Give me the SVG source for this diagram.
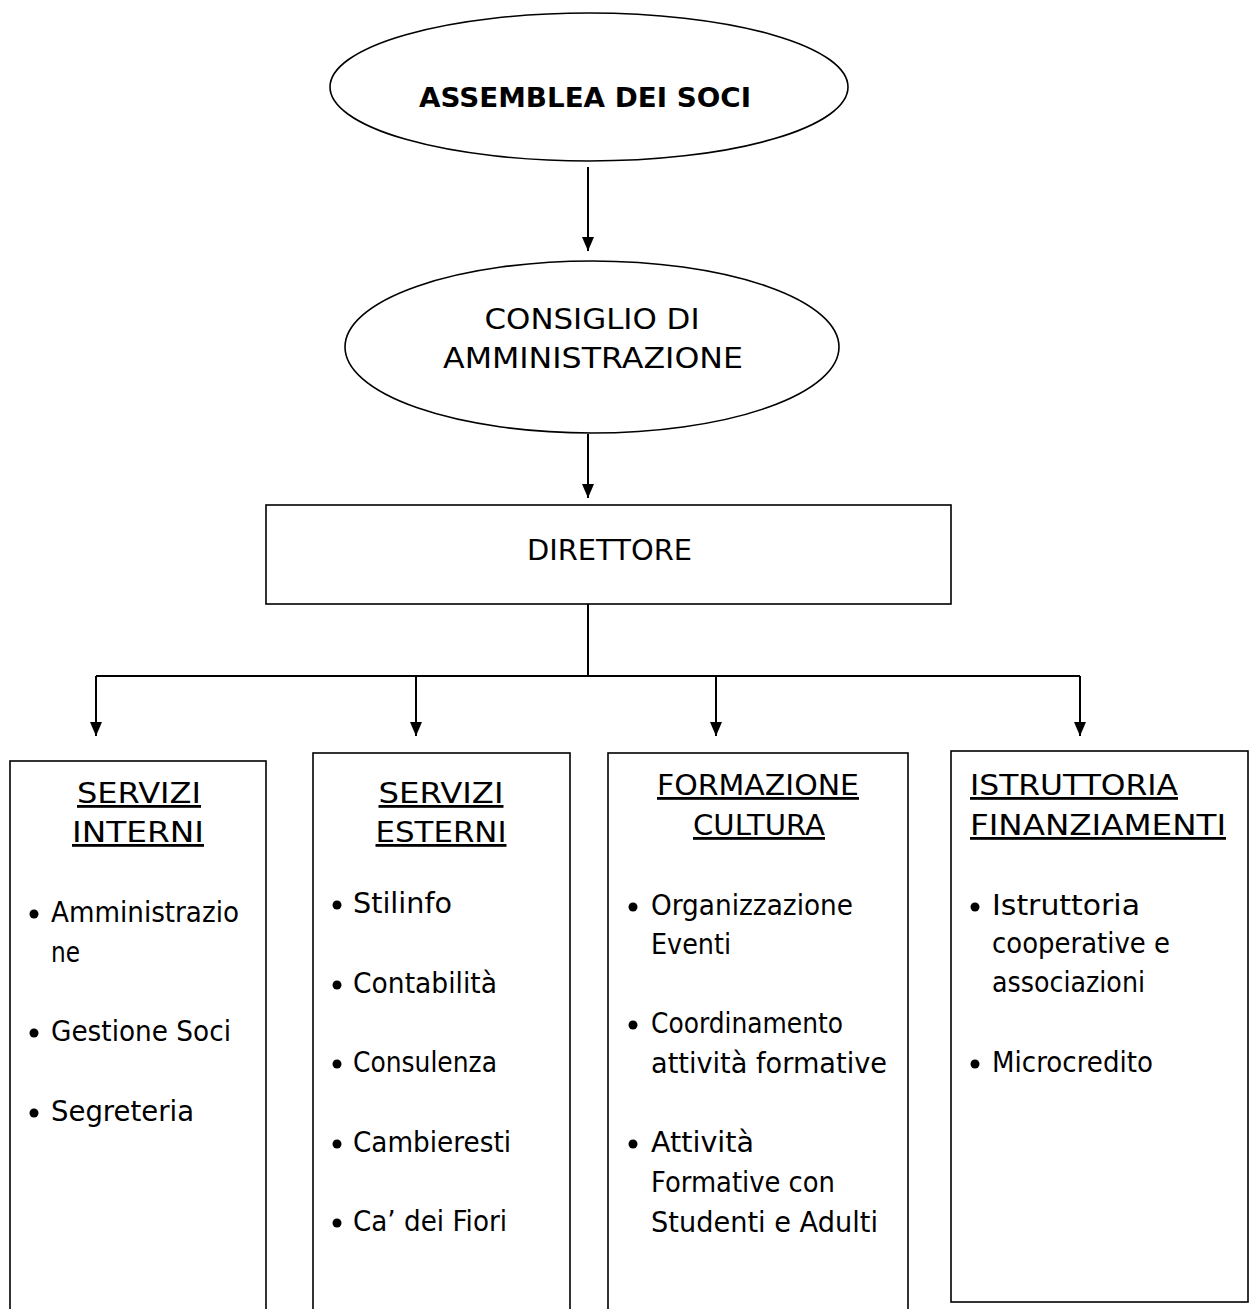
<svg xmlns="http://www.w3.org/2000/svg" width="1249" height="1309" viewBox="0 0 1249 1309">
<style>
.shape{fill:#fff;stroke:#000;stroke-width:1.6}
.conn{fill:none;stroke:#000;stroke-width:2}
text{font-family:"DejaVu Sans","Liberation Sans",sans-serif;font-size:28px;fill:#000}
.c{text-anchor:middle}
.b{font-weight:bold;font-size:27px}
.u{text-decoration:underline}
.dot{fill:#000}
</style>
<defs>
<marker id="arr" markerWidth="14" markerHeight="12" refX="14" refY="6" orient="auto" markerUnits="userSpaceOnUse">
<path d="M0,0 L14,6 L0,12 Z" fill="#000"/>
</marker>
</defs>
<rect width="1249" height="1309" fill="#fff"/>
<g id="connectors">
<line class="conn" x1="588" y1="167" x2="588" y2="251" marker-end="url(#arr)"/>
<line class="conn" x1="588" y1="434" x2="588" y2="498" marker-end="url(#arr)"/>
<line class="conn" x1="588" y1="604" x2="588" y2="676"/>
<line class="conn" x1="96" y1="676" x2="1080" y2="676"/>
<line class="conn" x1="96" y1="676" x2="96" y2="736" marker-end="url(#arr)"/>
<line class="conn" x1="416" y1="676" x2="416" y2="736" marker-end="url(#arr)"/>
<line class="conn" x1="716" y1="676" x2="716" y2="736" marker-end="url(#arr)"/>
<line class="conn" x1="1080" y1="676" x2="1080" y2="736" marker-end="url(#arr)"/>
</g>
<g id="assemblea">
<ellipse class="shape" cx="589" cy="87" rx="259" ry="74"/>
<text class="c b" x="585" y="107" textLength="332" lengthAdjust="spacingAndGlyphs">ASSEMBLEA DEI SOCI</text>
</g>
<g id="consiglio">
<ellipse class="shape" cx="592" cy="347" rx="247" ry="86"/>
<text class="c" x="592" y="329" textLength="215" lengthAdjust="spacingAndGlyphs">CONSIGLIO DI</text>
<text class="c" x="593" y="368" textLength="300" lengthAdjust="spacingAndGlyphs">AMMINISTRAZIONE</text>
</g>
<g id="direttore">
<rect class="shape" x="266" y="505" width="685" height="99"/>
<text class="c" x="609.5" y="560" textLength="165" lengthAdjust="spacingAndGlyphs">DIRETTORE</text>
</g>
<g id="servizi-interni">
<rect class="shape" x="10" y="761" width="256" height="560"/>
<text class="c u" x="139" y="803" textLength="124" lengthAdjust="spacingAndGlyphs">SERVIZI</text>
<text class="c u" x="138" y="842" textLength="132" lengthAdjust="spacingAndGlyphs">INTERNI</text>
<circle class="dot" cx="34" cy="914" r="4.5"/>
<text x="51" y="922" textLength="188" lengthAdjust="spacingAndGlyphs">Amministrazio</text>
<text x="51" y="962" textLength="29" lengthAdjust="spacingAndGlyphs">ne</text>
<circle class="dot" cx="34" cy="1033" r="4.5"/>
<text x="51" y="1041" textLength="180" lengthAdjust="spacingAndGlyphs">Gestione Soci</text>
<circle class="dot" cx="34" cy="1113" r="4.5"/>
<text x="51" y="1121" textLength="143" lengthAdjust="spacingAndGlyphs">Segreteria</text>
</g>
<g id="servizi-esterni">
<rect class="shape" x="313" y="753" width="257" height="568"/>
<text class="c u" x="441" y="803" textLength="125" lengthAdjust="spacingAndGlyphs">SERVIZI</text>
<text class="c u" x="441" y="842" textLength="131" lengthAdjust="spacingAndGlyphs">ESTERNI</text>
<circle class="dot" cx="337" cy="905" r="4.5"/>
<text x="353" y="913" textLength="99" lengthAdjust="spacingAndGlyphs">Stilinfo</text>
<circle class="dot" cx="337" cy="985" r="4.5"/>
<text x="353" y="993" textLength="144" lengthAdjust="spacingAndGlyphs">Contabilità</text>
<circle class="dot" cx="337" cy="1064" r="4.5"/>
<text x="353" y="1072" textLength="144" lengthAdjust="spacingAndGlyphs">Consulenza</text>
<circle class="dot" cx="337" cy="1144" r="4.5"/>
<text x="353" y="1152" textLength="158" lengthAdjust="spacingAndGlyphs">Cambieresti</text>
<circle class="dot" cx="337" cy="1223" r="4.5"/>
<text x="353" y="1231" textLength="154" lengthAdjust="spacingAndGlyphs">Ca’ dei Fiori</text>
</g>
<g id="formazione-cultura">
<rect class="shape" x="608" y="753" width="300" height="568"/>
<text class="c u" x="758" y="795" textLength="202" lengthAdjust="spacingAndGlyphs">FORMAZIONE</text>
<text class="c u" x="759" y="835" textLength="132" lengthAdjust="spacingAndGlyphs">CULTURA</text>
<circle class="dot" cx="633" cy="907" r="4.5"/>
<text x="651" y="915" textLength="202" lengthAdjust="spacingAndGlyphs">Organizzazione</text>
<text x="651" y="954" textLength="80" lengthAdjust="spacingAndGlyphs">Eventi</text>
<circle class="dot" cx="633" cy="1025" r="4.5"/>
<text x="651" y="1033" textLength="192" lengthAdjust="spacingAndGlyphs">Coordinamento</text>
<text x="651" y="1073" textLength="236" lengthAdjust="spacingAndGlyphs">attività formative</text>
<circle class="dot" cx="633" cy="1144" r="4.5"/>
<text x="651" y="1152" textLength="103" lengthAdjust="spacingAndGlyphs">Attività</text>
<text x="651" y="1192" textLength="184" lengthAdjust="spacingAndGlyphs">Formative con</text>
<text x="651" y="1232" textLength="227" lengthAdjust="spacingAndGlyphs">Studenti e Adulti</text>
</g>
<g id="istruttoria-finanziamenti">
<rect class="shape" x="951" y="751" width="297" height="551"/>
<text class="u" x="970" y="795" textLength="208" lengthAdjust="spacingAndGlyphs">ISTRUTTORIA</text>
<text class="u" x="970" y="835" textLength="256" lengthAdjust="spacingAndGlyphs">FINANZIAMENTI</text>
<circle class="dot" cx="975" cy="907" r="4.5"/>
<text x="992" y="915" textLength="148" lengthAdjust="spacingAndGlyphs">Istruttoria</text>
<text x="992" y="953" textLength="178" lengthAdjust="spacingAndGlyphs">cooperative e</text>
<text x="992" y="992" textLength="153" lengthAdjust="spacingAndGlyphs">associazioni</text>
<circle class="dot" cx="975" cy="1064" r="4.5"/>
<text x="992" y="1072" textLength="161" lengthAdjust="spacingAndGlyphs">Microcredito</text>
</g>
</svg>
